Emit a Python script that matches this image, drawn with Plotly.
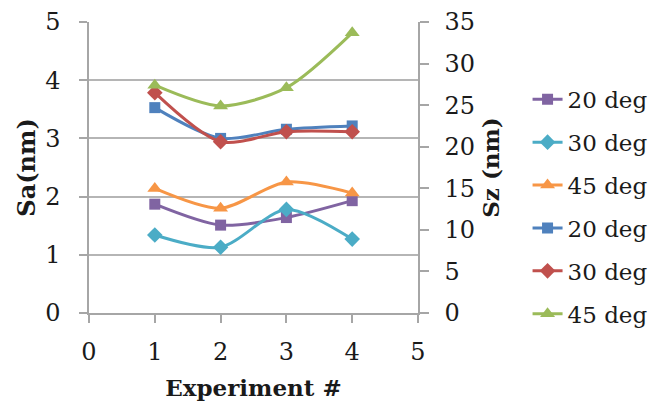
import plotly.graph_objects as go

experiments = [1, 2, 3, 4]
sa_20 = [1.87, 1.51, 1.64, 1.93]
sa_30 = [1.34, 1.13, 1.78, 1.27]
sa_45 = [2.14, 1.80, 2.25, 2.06]
sz_20 = [24.7, 21.0, 22.1, 22.5]
sz_30 = [26.5, 20.6, 21.8, 21.8]
sz_45 = [27.4, 24.9, 27.1, 33.7]
labels = ["20 deg", "30 deg", "45 deg"]

FONT = "DejaVu Serif"
TXT = "#1a1a1a"
AX = "#A6A6A6"

fig = go.Figure()
series = [
    (sa_20, "y", "#8064A2", "square", labels[0], 11),
    (sa_30, "y", "#4BACC6", "diamond", labels[1], 12),
    (sa_45, "y", "#F79646", "triangle-up", labels[2], 13),
    (sz_20, "y2", "#4F81BD", "square", labels[0], 11),
    (sz_30, "y2", "#C0504D", "diamond", labels[1], 12),
    (sz_45, "y2", "#9BBB59", "triangle-up", labels[2], 13),
]
for i, (vals, ax, col, sym, name, ms) in enumerate(series):
    fig.add_trace(go.Scatter(
        x=experiments, y=vals, yaxis=ax, name=name, mode="lines+markers",
        legendgroup="g%d" % i,
        line=dict(color=col, width=3, shape="spline", smoothing=0.8),
        marker=dict(symbol=sym, size=ms, color=col),
    ))

fig.update_layout(
    width=662, height=401,
    margin=dict(l=89, r=244, t=22, b=88, autoexpand=False),
    plot_bgcolor="white", paper_bgcolor="white",
    font=dict(family=FONT, size=24, color=TXT),
    showlegend=True,
    legend=dict(x=1.333, y=0.365, xanchor="left", yanchor="middle",
                font=dict(family=FONT, size=23, color=TXT),
                itemwidth=30, tracegroupgap=10, bgcolor="rgba(0,0,0,0)"),
    xaxis=dict(range=[0, 5], dtick=1, tick0=0, showgrid=False, automargin=False,
               showline=True, linecolor=AX, linewidth=1.5,
               ticks="outside", ticklen=8, tickcolor=AX, tickwidth=1.5,
               ticklabelstandoff=8, zeroline=False,
               title=dict(text="<b>Experiment #</b>", font=dict(family=FONT, size=23, color=TXT), standoff=17)),
    yaxis=dict(range=[0, 5], dtick=1, tick0=0, showgrid=True, gridcolor="#B5B5B5", gridwidth=1.5,
               automargin=False,
               showline=True, linecolor=AX, linewidth=1.5,
               ticks="outside", ticklen=8, tickcolor=AX, tickwidth=1.5,
               ticklabelstandoff=14, zeroline=False,
               title=dict(text="<b>Sa(nm)</b>", font=dict(family=FONT, size=24, color=TXT), standoff=3)),
    yaxis2=dict(range=[0, 35], dtick=5, tick0=0, overlaying="y", side="right",
                automargin=False,
                showgrid=False, showline=True, linecolor=AX, linewidth=1.5,
                ticks="outside", ticklen=9, tickcolor=AX, tickwidth=1.5,
                ticklabelstandoff=11, zeroline=False,
                title=dict(text="<b>Sz (nm)</b>", font=dict(family=FONT, size=23, color=TXT), standoff=9)),
)

fig.write_html("out.html", config={"displayModeBar": False},
               post_script="document.body.style.margin='0';")
